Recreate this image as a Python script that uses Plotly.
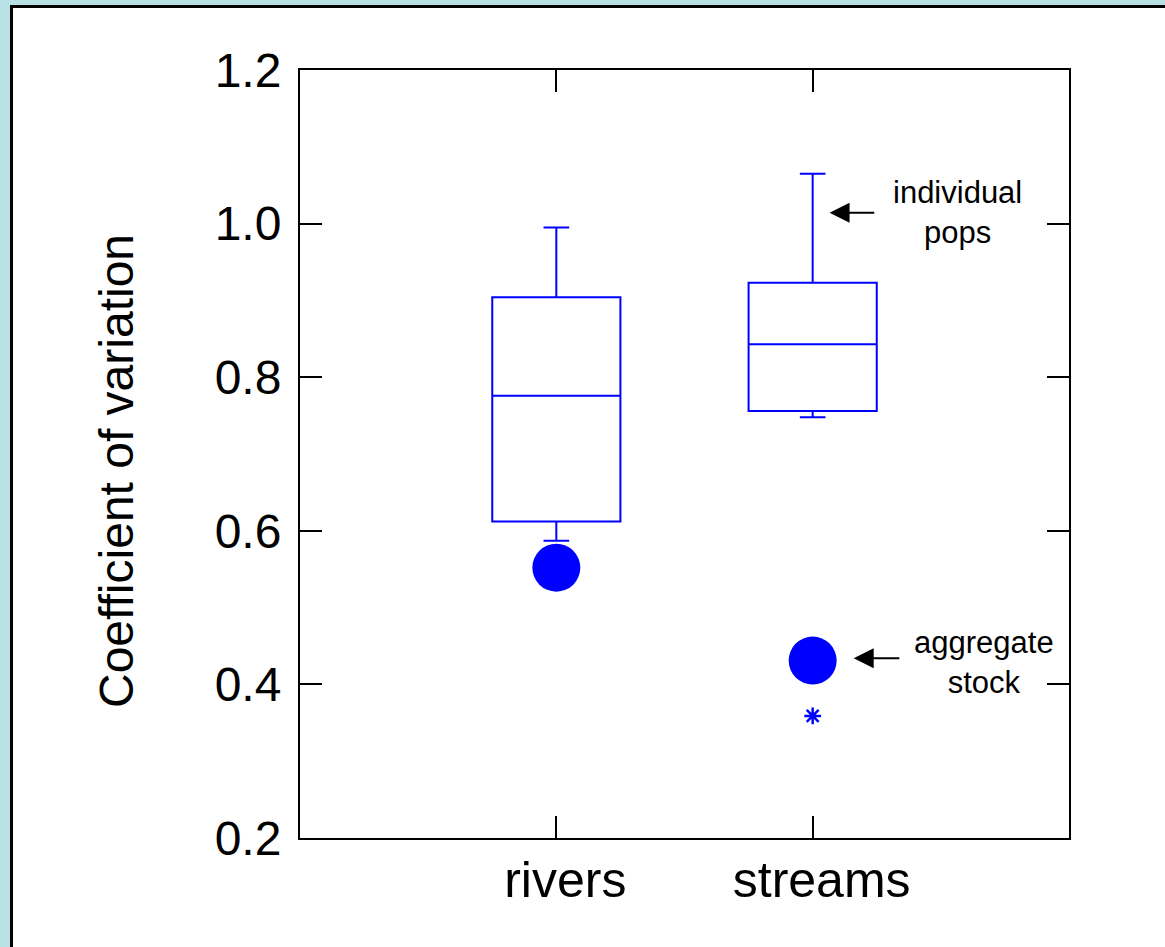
import plotly.graph_objects as go

# Box-plot summary of coefficient of variation per habitat type
categories = ["rivers", "streams"]
q1 = [0.612, 0.756]
median = [0.776, 0.843]
q3 = [0.904, 0.923]
lower_whisker = [0.587, 0.748]
upper_whisker = [0.995, 1.065]

# Aggregate-stock CV for each habitat type
aggregate = [0.552, 0.431]

# Outlying individual population
outlier_x = ["streams"]
outlier_y = [0.359]

y_ticks = [0.2, 0.4, 0.6, 0.8, 1.0, 1.2]
y_ticktext = ["0.2", "0.4", "0.6", "0.8", "1.0", "1.2"]

BLUE = "#0000FF"
FONT = "Liberation Sans, Arial, Helvetica, sans-serif"

fig = go.Figure()

fig.add_trace(go.Box(
    x=categories,
    q1=q1, median=median, q3=q3,
    lowerfence=lower_whisker, upperfence=upper_whisker,
    width=0.5, whiskerwidth=0.2,
    line=dict(color=BLUE, width=2),
    fillcolor="rgba(255,255,255,0)",
    boxpoints=False,
    showlegend=False,
))

fig.add_trace(go.Scatter(
    x=categories, y=aggregate, mode="markers",
    marker=dict(size=48, color=BLUE, line=dict(width=0)),
    showlegend=False,
))

fig.add_trace(go.Scatter(
    x=outlier_x, y=outlier_y, mode="markers",
    marker=dict(symbol="asterisk-open", size=14, color=BLUE,
                line=dict(color=BLUE, width=2.5)),
    showlegend=False,
))

# White panel with black frame behind the axes
L, R, T, B = 300, 96, 70, 109
W, H = 1165, 947
pw, ph = W - L - R, H - T - B
fig.add_shape(type="rect", xref="paper", yref="paper",
              x0=(11.5 - L) / pw, x1=1.6,
              y0=-0.5, y1=(H - B - 6.5) / ph,
              line=dict(color="black", width=3), fillcolor="white",
              layer="below")

# Y-axis title
fig.add_annotation(xref="paper", yref="paper",
                   x=(116 - L) / pw, y=(H - B - 471) / ph,
                   text="Coefficient of variation", textangle=-90,
                   showarrow=False, font=dict(size=48, color="black", family=FONT),
                   xanchor="center", yanchor="middle")

# Labels with pointer arrows
fig.add_annotation(x=1.566, y=1.014, text="individual<br>pops", showarrow=False,
                   font=dict(size=31, color="black", family=FONT),
                   xanchor="center", yanchor="middle")
fig.add_annotation(x=1.066, y=1.014, ax=1.246, ay=1.014, axref="x", ayref="y",
                   text="", showarrow=True, arrowhead=2, arrowsize=2,
                   arrowwidth=2, arrowcolor="black")

fig.add_annotation(x=1.668, y=0.428, text="aggregate<br>stock", showarrow=False,
                   font=dict(size=31, color="black", family=FONT),
                   xanchor="center", yanchor="middle")
fig.add_annotation(x=1.160, y=0.434, ax=1.344, ay=0.434, axref="x", ayref="y",
                   text="", showarrow=True, arrowhead=2, arrowsize=2,
                   arrowwidth=2, arrowcolor="black")

axis_common = dict(showline=True, linecolor="black", linewidth=2,
                   mirror="ticks", ticks="inside", ticklen=22, tickwidth=2,
                   tickcolor="black", showgrid=False, zeroline=False)

fig.update_xaxes(type="category", range=[-1, 2], categoryorder="array",
                 categoryarray=categories,
                 tickfont=dict(size=50, color="black", family=FONT),
                 ticklabelstandoff=-3, ticklabelshift=9, **axis_common)
fig.update_yaxes(range=[0.2, 1.2], tickvals=y_ticks, ticktext=y_ticktext,
                 tickfont=dict(size=48, color="black", family=FONT),
                 ticklabelstandoff=7, **axis_common)

fig.update_layout(
    width=W, height=H,
    margin=dict(l=L, r=R, t=T, b=B, pad=0),
    paper_bgcolor="#B9E0E4",
    plot_bgcolor="white",
    font=dict(family=FONT, color="black"),
    showlegend=False,
)

fig.write_html("out.html")
